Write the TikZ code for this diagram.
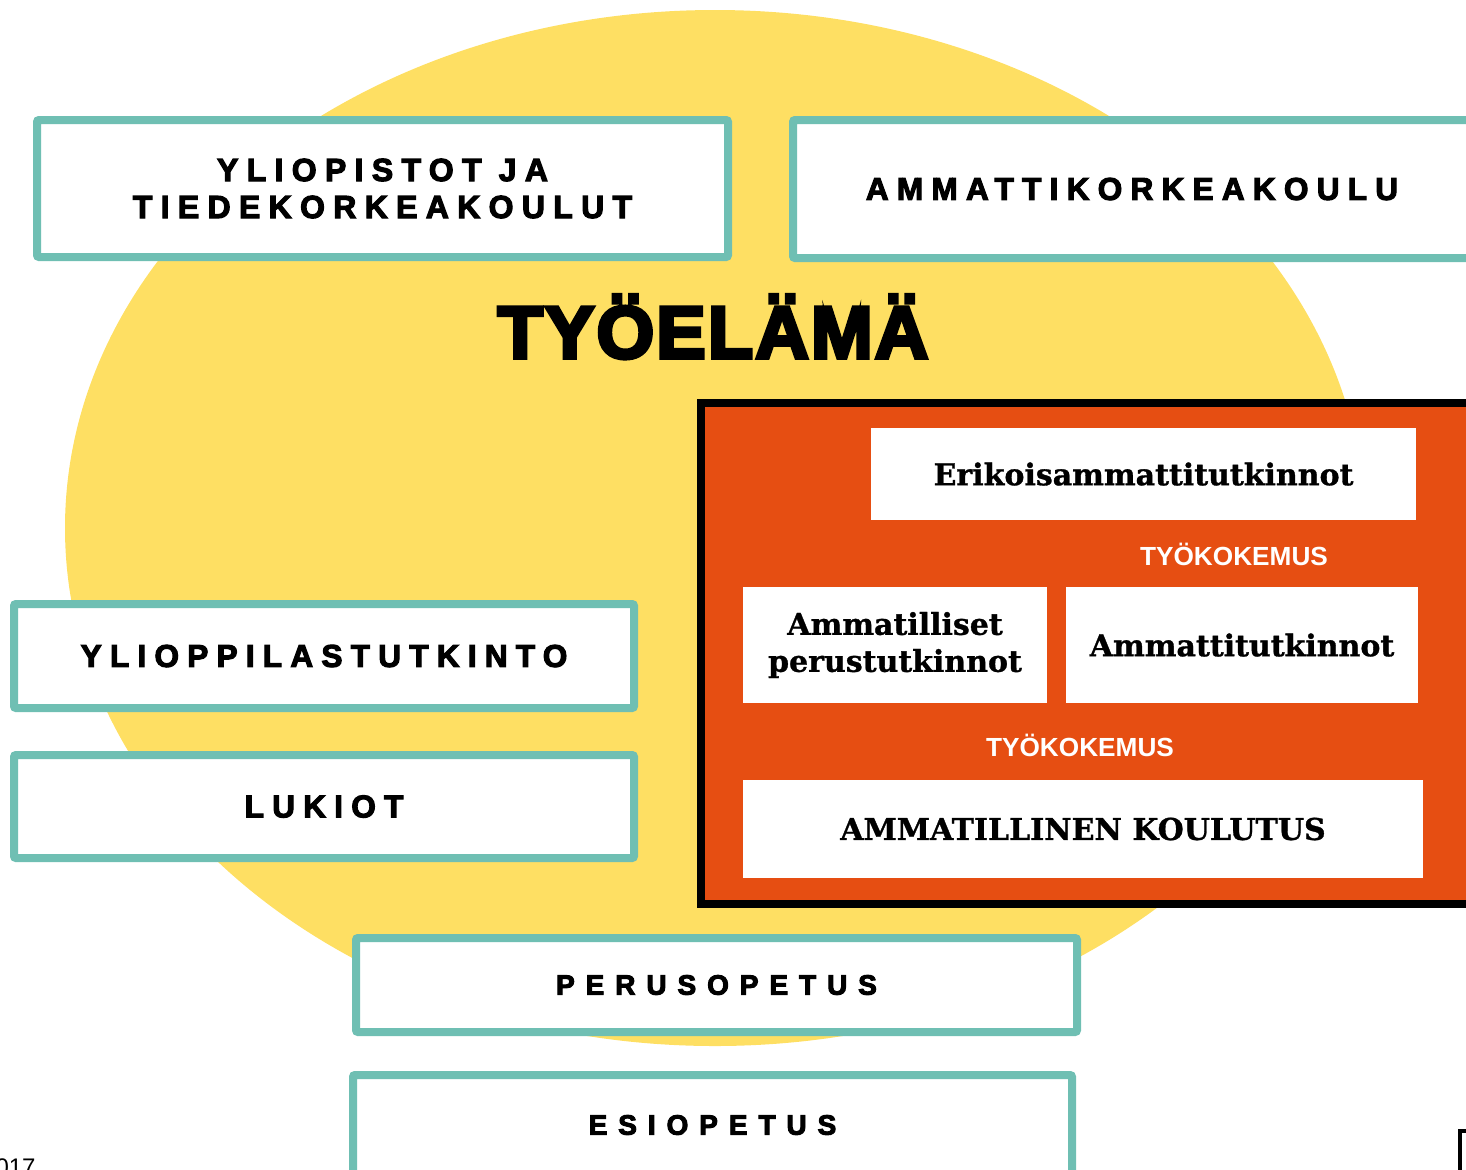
\documentclass[tikz,border=0pt]{standalone}
\usepackage{fontspec}
\setmainfont{DejaVu Serif}[FakeBold=1]
\newfontfamily\capsfont{Liberation Sans}[LetterSpace=26,FakeBold=3.5]
\newfontfamily\leveacaps{Liberation Sans}[LetterSpace=39,FakeBold=3.5]
\newfontfamily\titlefont{Liberation Sans}[LetterSpace=3,FakeBold=5]
\newfontfamily\plainsans{Liberation Sans}
\definecolor{keltainen}{HTML}{FEDF63}
\definecolor{turkoosi}{HTML}{6FBFB3}
\definecolor{oranssi}{HTML}{E64E12}
\tikzset{
  laatikko/.style={draw=turkoosi, line width=4pt, fill=white, rounded corners=1pt,
    inner sep=0pt, align=center, font=\capsfont\bfseries\fontsize{15.8}{18.5}\selectfont},
  alalaatikko/.style={laatikko, font=\leveacaps\bfseries\fontsize{14}{16}\selectfont},
  valkoinen/.style={fill=white, inner sep=0pt, align=center,
    font=\bfseries\fontsize{15}{18.5}\selectfont},
  kokemus/.style={text=white, anchor=base, font=\plainsans\bfseries\fontsize{13.1}{14}\selectfont}
}

\begin{document}
\begin{tikzpicture}[x=0.5pt,y=-0.5pt]
  \useasboundingbox (0,0) rectangle (1466,1169);

  % Tausta
  \fill[keltainen] (715,528) ellipse [x radius=650, y radius=518];

  % Korkeakoulut
  \node[laatikko, minimum width=345.5pt, minimum height=68.5pt,
    font=\capsfont\bfseries\fontsize{16}{18.5}\selectfont] (yliopistot) at (382.5,188.5)
    {YLIOPISTOT JA\\TIEDEKORKEAKOULUT};
  \node[laatikko, minimum width=370pt, minimum height=69pt, anchor=west] (amk) at (789,189) {};
  \node[font=\capsfont\bfseries\fontsize{15.8}{18.5}\selectfont] (amkteksti) at (1132,189) {AMMATTIKORKEAKOULU};

  % Otsikko
  \node[anchor=base, font=\titlefont\bfseries\fontsize{37}{40}\selectfont] (tyoelama) at (713,358) {TYÖELÄMÄ};

  % Ammatillinen puoli
  \node[draw=black, line width=4pt, fill=oranssi, minimum width=414.5pt, minimum height=250.5pt,
    anchor=north west] (kehys) at (697,399) {};
  \node[valkoinen, minimum width=272.5pt, minimum height=46pt] (erikois) at (1143.5,474) {Erikoisammattitutkinnot};
  \node[kokemus] (kokemus1) at (1234,565) {TYÖKOKEMUS};
  \node[valkoinen, minimum width=152pt, minimum height=58pt] (perustutk) at (895,645) {Ammatilliset\\perustutkinnot};
  \node[valkoinen, minimum width=176pt, minimum height=58pt] (ammtutk) at (1242,645) {Ammattitutkinnot};
  \node[kokemus] (kokemus2) at (1080,756) {TYÖKOKEMUS};
  \node[valkoinen, minimum width=340pt, minimum height=49pt] (koulutus) at (1083,829) {AMMATILLINEN KOULUTUS};

  % Lukiopuoli
  \node[laatikko, minimum width=310pt, minimum height=52pt] (ylioppilas) at (324,656) {YLIOPPILASTUTKINTO};
  \node[laatikko, minimum width=310pt, minimum height=51.5pt] (lukiot) at (324,806.5) {LUKIOT};

  % Perusaste
  \node[alalaatikko, minimum width=360.5pt, minimum height=47pt] (perusopetus) at (716.5,985) {PERUSOPETUS};
  \node[alalaatikko, minimum width=359.5pt, minimum height=50pt] (esiopetus) at (712.5,1125) {ESIOPETUS};

  % Reunat
  \node[anchor=base east, inner sep=0pt, font=\plainsans\fontsize{12}{12}\selectfont] (vuosi) at (36,1175) {017};
  \draw[line width=2pt] (1460,1200) |- (1520,1131);
\end{tikzpicture}
\end{document}
